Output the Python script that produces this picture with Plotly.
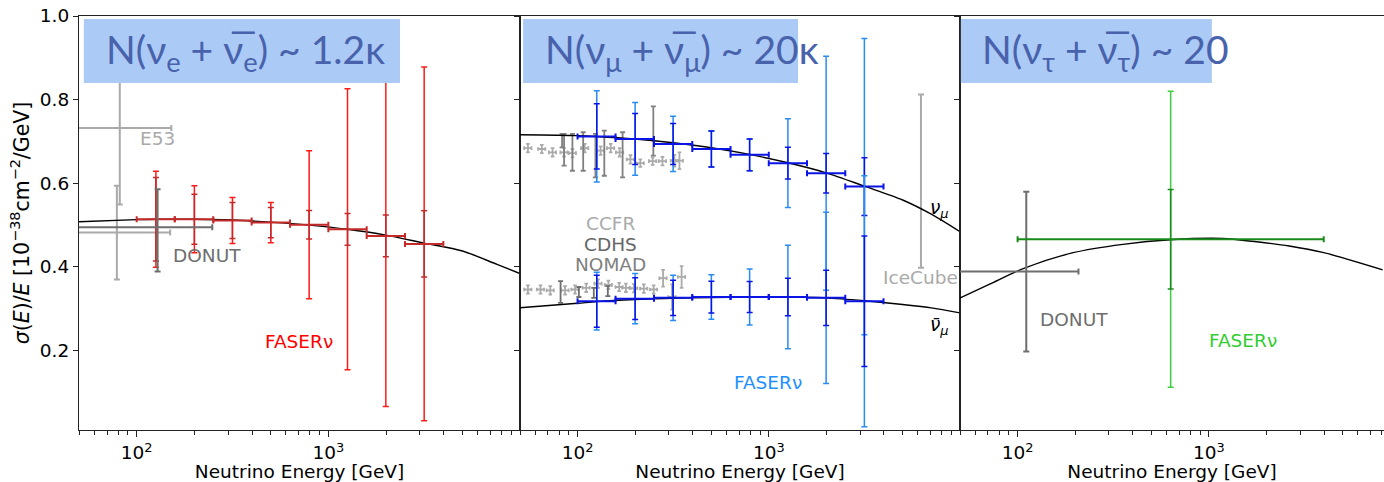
import plotly.graph_objects as go
import math

# ---------------- data ----------------
# FASERnu energy bins (GeV)
bin_lo = [100, 158, 251, 398, 631, 1000, 1585, 2512]
bin_c = [126, 200, 316, 501, 794, 1259, 1995, 3162]
bin_hi = [158, 251, 398, 631, 1000, 1585, 2512, 3981]

# nu_e panel
nue_y = [0.514, 0.514, 0.511, 0.506, 0.501, 0.490, 0.474, 0.455]
nue_err_out = [0.115, 0.080, 0.055, 0.048, 0.177, 0.336, 0.408, 0.423]
nue_err_in = [0.100, 0.060, 0.043, 0.036, 0.034, 0.038, 0.050, 0.079]

nue_curve_E = [50, 100, 126, 200, 316, 501, 794, 1259, 1995, 3162, 5012, 7586, 10000]
nue_curve_y = [0.508, 0.513, 0.514, 0.514, 0.512, 0.507, 0.500, 0.490, 0.476, 0.457, 0.438, 0.406, 0.384]

e53_x = [81.6, 78.8]
e53_y = [0.732, 0.482]
e53_xlo = [44, 41]
e53_xhi = [151.6, 149.5]
e53_yerr = [0.183, 0.112]

donut_e_x = [128.5]
donut_e_y = [0.495]
donut_e_xlo = [40]
donut_e_xhi = [248]
donut_e_yhi = [0.586]
donut_e_ylo = [0.389]

# nu_mu panel
numu_y = [0.712, 0.706, 0.694, 0.682, 0.668, 0.648, 0.624, 0.592]
numu_err_out = [0.109, 0.087, 0.066, 0.043, 0.038, 0.106, 0.280, 0.354]
numu_err_in = [0.078, 0.061, 0.049, 0.043, 0.038, 0.038, 0.047, 0.069]
numubar_y = [0.318, 0.324, 0.326, 0.328, 0.328, 0.328, 0.326, 0.318]
numubar_err_out = [0.069, 0.060, 0.054, 0.053, 0.067, 0.124, 0.205, 0.300]
numubar_err_in = [0.062, 0.050, 0.042, 0.038, 0.037, 0.045, 0.066, 0.156]

numu_curve_E = [49, 100, 126, 200, 316, 501, 794, 1259, 1995, 3162, 5012, 7079, 10000]
numu_curve_y = [0.716, 0.714, 0.712, 0.706, 0.697, 0.685, 0.669, 0.649, 0.625, 0.593, 0.560, 0.526, 0.484]
numubar_curve_y = [0.302, 0.313, 0.317, 0.322, 0.325, 0.327, 0.328, 0.328, 0.326, 0.319, 0.310, 0.302, 0.290]

ccfr_nu_x = [55, 65, 74, 85, 94, 109, 132, 149, 166, 189, 213, 247, 278, 321, 341]
ccfr_nu_xerr = [2.4, 2.8, 3.2, 3.7, 4.1, 4.8, 5.8, 6.5, 7.3, 8.3, 9.3, 10.8, 12.2, 14.0, 14.9]
ccfr_nu_y = [0.684, 0.682, 0.674, 0.674, 0.672, 0.684, 0.678, 0.684, 0.674, 0.657, 0.648, 0.653, 0.653, 0.654, 0.654]
ccfr_nu_yerr = [0.010, 0.010, 0.010, 0.010, 0.010, 0.010, 0.010, 0.010, 0.010, 0.010, 0.009, 0.009, 0.010, 0.014, 0.020]

ccfr_nub_x = [55, 64, 72, 86, 97, 111, 128, 145, 165, 179, 197, 222, 250, 280, 312, 350]
ccfr_nub_xerr = [2.4, 2.8, 3.1, 3.8, 4.2, 4.8, 5.6, 6.3, 7.2, 7.8, 8.6, 9.7, 10.9, 12.2, 13.6, 15.3]
ccfr_nub_y = [0.346, 0.346, 0.344, 0.344, 0.346, 0.350, 0.360, 0.357, 0.352, 0.350, 0.349, 0.348, 0.346, 0.373, 0.328, 0.376]
ccfr_nub_yerr = [0.010, 0.010, 0.010, 0.010, 0.010, 0.010, 0.010, 0.010, 0.010, 0.010, 0.010, 0.010, 0.010, 0.020, 0.030, 0.026]

cdhs_nu_x = [83, 85, 94, 107, 124, 138, 172, 249]
cdhs_nu_y = [0.702, 0.680, 0.674, 0.676, 0.666, 0.672, 0.668, 0.725]
cdhs_nu_yerr = [0.016, 0.038, 0.044, 0.046, 0.052, 0.054, 0.054, 0.059]
cdhs_nub_x = [81.5, 101.6, 121.6, 144]
cdhs_nub_y = [0.340, 0.340, 0.338, 0.342]
cdhs_nub_yerr = [0.026, 0.012, 0.012, 0.012]

icecube_x = [6250]
icecube_y = [0.605]
icecube_yerr = [0.207]

# nu_tau panel
nutau_x = [631]
nutau_y = [0.466]
nutau_xlo = [100]
nutau_xhi = [3981]
nutau_err_out = [0.354]
nutau_err_in = [0.119]

nutau_curve_E = [48, 71, 107, 195, 355, 631, 1175, 1778, 2630, 3981, 8091]
nutau_curve_y = [0.322, 0.358, 0.396, 0.434, 0.454, 0.465, 0.468, 0.460, 0.450, 0.434, 0.393]

donut_t_x = [111]
donut_t_y = [0.389]
donut_t_xlo = [40]
donut_t_xhi = [208]
donut_t_yerr = [0.191]

# ---------------- styling ----------------
LIGHT_GRAY = "#aaaaaa"
MID_GRAY = "#808080"
DARK_GRAY = "#6e6e6e"
RED_OUT = "#ff1a1a"
RED_IN = "#c42a2a"
BLUE_OUT = "#2a8cf0"
BLUE_IN = "#0a14e6"
GREEN_OUT = "#3dcf3d"
GREEN_IN = "#1a8a1a"
BOX = "#abcaf6"
BOXTXT = "#4862ac"
FONT = "DejaVu Sans"
FS = 18.5

fig = go.Figure()


def errpts(x, y, xa, ya, color, ex_lo=None, ex_hi=None, ey_lo=None, ey_hi=None, th=1.5, w=3):
    kw = {}
    if ex_lo is not None:
        kw["error_x"] = dict(type="data", symmetric=False, array=ex_hi, arrayminus=ex_lo,
                             color=color, thickness=th, width=w)
    if ey_lo is not None:
        kw["error_y"] = dict(type="data", symmetric=False, array=ey_hi, arrayminus=ey_lo,
                             color=color, thickness=th, width=w)
    fig.add_trace(go.Scatter(x=x, y=y, mode="markers", xaxis=xa, yaxis=ya,
                             marker=dict(size=1, color="rgba(0,0,0,0)"),
                             hoverinfo="skip", showlegend=False, **kw))


def line(x, y, xa, ya):
    fig.add_trace(go.Scatter(x=x, y=y, mode="lines", xaxis=xa, yaxis=ya,
                             line=dict(color="black", width=1.4, shape="spline", smoothing=0.8),
                             hoverinfo="skip", showlegend=False))


def faser(yv, eout, ein, xa, ya, cout, cin, x=bin_c, lo=bin_lo, hi=bin_hi):
    errpts(x, yv, xa, ya, cout, ey_lo=eout, ey_hi=eout)
    errpts(x, yv, xa, ya, cin, ey_lo=ein, ey_hi=ein)
    errpts(x, yv, xa, ya, cin,
           ex_lo=[c - l for c, l in zip(x, lo)],
           ex_hi=[h - c for c, h in zip(x, hi)], th=2)


# panel 1: nu_e
errpts(e53_x, e53_y, "x", "y", LIGHT_GRAY,
       ex_lo=[a - b for a, b in zip(e53_x, e53_xlo)], ex_hi=[b - a for a, b in zip(e53_x, e53_xhi)],
       ey_lo=e53_yerr, ey_hi=e53_yerr, th=2)
line(nue_curve_E, nue_curve_y, "x", "y")
faser(nue_y, nue_err_out, nue_err_in, "x", "y", RED_OUT, RED_IN)
errpts(donut_e_x, donut_e_y, "x", "y", DARK_GRAY,
       ex_lo=[a - b for a, b in zip(donut_e_x, donut_e_xlo)], ex_hi=[b - a for a, b in zip(donut_e_x, donut_e_xhi)],
       ey_lo=[a - b for a, b in zip(donut_e_y, donut_e_ylo)], ey_hi=[b - a for a, b in zip(donut_e_y, donut_e_yhi)], th=2)

# panel 2: nu_mu
errpts(ccfr_nu_x, ccfr_nu_y, "x2", "y2", LIGHT_GRAY, ex_lo=ccfr_nu_xerr, ex_hi=ccfr_nu_xerr,
       ey_lo=ccfr_nu_yerr, ey_hi=ccfr_nu_yerr, th=1.8, w=1.8)
errpts(ccfr_nub_x, ccfr_nub_y, "x2", "y2", LIGHT_GRAY, ex_lo=ccfr_nub_xerr, ex_hi=ccfr_nub_xerr,
       ey_lo=ccfr_nub_yerr, ey_hi=ccfr_nub_yerr, th=1.8, w=1.8)
errpts(cdhs_nu_x, cdhs_nu_y, "x2", "y2", MID_GRAY, ey_lo=cdhs_nu_yerr, ey_hi=cdhs_nu_yerr, th=1.8, w=2.5)
errpts(cdhs_nub_x, cdhs_nub_y, "x2", "y2", DARK_GRAY, ey_lo=cdhs_nub_yerr, ey_hi=cdhs_nub_yerr, th=1.8, w=2.5)
errpts(icecube_x, icecube_y, "x2", "y2", LIGHT_GRAY, ey_lo=icecube_yerr, ey_hi=icecube_yerr, th=2)
line(numu_curve_E, numu_curve_y, "x2", "y2")
line(numu_curve_E, numubar_curve_y, "x2", "y2")
faser(numu_y, numu_err_out, numu_err_in, "x2", "y2", BLUE_OUT, BLUE_IN)
faser(numubar_y, numubar_err_out, numubar_err_in, "x2", "y2", BLUE_OUT, BLUE_IN)

# panel 3: nu_tau
line(nutau_curve_E, nutau_curve_y, "x3", "y3")
errpts(donut_t_x, donut_t_y, "x3", "y3", DARK_GRAY,
       ex_lo=[a - b for a, b in zip(donut_t_x, donut_t_xlo)], ex_hi=[b - a for a, b in zip(donut_t_x, donut_t_xhi)],
       ey_lo=donut_t_yerr, ey_hi=donut_t_yerr, th=2)
faser(nutau_y, nutau_err_out, nutau_err_in, "x3", "y3", GREEN_OUT, GREEN_IN,
      x=nutau_x, lo=nutau_xlo, hi=nutau_xhi)

# ---------------- layout ----------------
W, H = 1384, 482
ML, MR, MT, MB = 79, 0, 16, 52
PW = W - ML - MR
d1 = (520 - ML) / PW
d2 = (960 - ML) / PW

minor_vals = [50, 60, 70, 80, 90, 200, 300, 400, 500, 600, 700, 800, 900,
              2000, 3000, 4000, 5000, 6000, 7000, 8000, 9000]

tickfont = dict(family=FONT, size=FS, color="black")


def xax(domain, rng, anchor):
    return dict(type="log", domain=domain, range=rng, anchor=anchor,
                showline=True, linecolor="#222", linewidth=1.2, mirror=True,
                showgrid=False, zeroline=False,
                tickvals=[100, 1000], ticktext=["10<sup>2</sup>", "10<sup>3</sup>"],
                ticks="outside", ticklen=6, tickcolor="#222", tickfont=tickfont,
                minor=dict(tickvals=minor_vals, ticks="outside", ticklen=3.5, tickcolor="#222", showgrid=False),
                title=dict(text="Neutrino Energy [GeV]", font=dict(family=FONT, size=FS, color="black"), standoff=0))


def yax(anchor, labels, mirror):
    return dict(range=[0.01, 1.0], anchor=anchor, domain=[0, 1],
                showline=True, linecolor="#222", linewidth=1.2, mirror=mirror,
                showgrid=False, zeroline=False,
                tickvals=[0.2, 0.4, 0.6, 0.8, 1.0], ticktext=["0.2", "0.4", "0.6", "0.8", "1.0"],
                ticks="outside", ticklen=5, tickcolor="#222",
                showticklabels=labels, tickfont=tickfont)


lo_x = math.log10(50)
fig.update_layout(
    width=W, height=H, margin=dict(l=ML, r=MR, t=MT, b=MB),
    paper_bgcolor="white", plot_bgcolor="white",
    xaxis=xax([0, d1], [lo_x, 4.0], "y"),
    xaxis2=xax([d1, d2], [lo_x, 4.0], "y2"),
    xaxis3=xax([d2, 1.0], [lo_x, 3.915], "y3"),
    yaxis=yax("x", True, True),
    yaxis2=yax("x2", False, True),
    yaxis3=yax("x3", False, False),
    showlegend=False,
)
fig.update_layout(yaxis=dict(title=dict(
    text="<i>σ</i>(<i>E</i>)/<i>E</i> [10<sup>−38</sup>cm<sup>−2</sup>/GeV]",
    font=dict(family=FONT, size=20.5, color="black"), standoff=4)))

# blue label boxes
boxes = [("x domain", "y domain", 0.011, 0.728, "N(ν<sub>e</sub> + ν\u0305<sub>e</sub>) ~ 1.2κ"),
         ("x2 domain", "y2 domain", 0.007, 0.632, "N(ν<sub>μ</sub> + ν\u0305<sub>μ</sub>) ~ 20κ"),
         ("x3 domain", "y3 domain", 0.002, 0.594, "N(ν<sub>τ</sub> + ν\u0305<sub>τ</sub>) ~ 20")]
for xr, yr, x0, x1, txt in boxes:
    fig.add_shape(type="rect", xref=xr, yref=yr, x0=x0, x1=x1, y0=0.838, y1=0.993,
                  fillcolor=BOX, line=dict(width=0), layer="above")
    fig.add_annotation(xref=xr, yref=yr, x=x0 + 0.045, y=0.912, xanchor="left", yanchor="middle",
                       text=txt, showarrow=False, font=dict(family="Lato", size=39, color=BOXTXT))


def lab(text, x, y, xa, ya, color, size=FS, xanchor="center"):
    fig.add_annotation(x=math.log10(x), y=y, xref=xa, yref=ya, text=text, showarrow=False,
                       xanchor=xanchor, yanchor="middle", font=dict(family=FONT, size=size, color=color))


lab("E53", 101, 0.706, "x", "y", LIGHT_GRAY, xanchor="left")
lab("DONUT", 151, 0.427, "x", "y", DARK_GRAY, xanchor="left")
lab("FASERν", 457, 0.222, "x", "y", "#ff0000", xanchor="left")
lab("CCFR", 149, 0.505, "x2", "y2", LIGHT_GRAY)
lab("CDHS", 149, 0.454, "x2", "y2", "#666666")
lab("NOMAD", 149, 0.406, "x2", "y2", MID_GRAY)
lab("IceCube", 6250, 0.375, "x2", "y2", LIGHT_GRAY)
lab("FASERν", 989, 0.123, "x2", "y2", "#1e90ff")
lab("<i>ν<sub>μ</sub></i>", 7850, 0.538, "x2", "y2", "black")
lab("<i>ν\u0304<sub>μ</sub></i>", 7850, 0.258, "x2", "y2", "black")
lab("DONUT", 198, 0.274, "x3", "y3", DARK_GRAY)
lab("FASERν", 1500, 0.224, "x3", "y3", "#33cc33")

fig.write_html("out.html")
